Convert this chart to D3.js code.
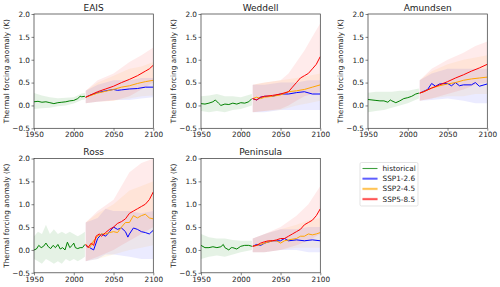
<!DOCTYPE html>
<html>
<head>
<meta charset="utf-8">
<script src="https://cdn.jsdelivr.net/npm/d3@7"></script>
<style>
  body { margin: 0; background: #fff; }
  text { font-family: "DejaVu Sans", sans-serif; fill: #222; }
</style>
</head>
<body>
<svg id="chart" width="500" height="287"></svg>
<script>
// Constant
const regions = ["EAIS", "Weddell", "Amundsen", "Ross", "Peninsula"];
const scenarios = ["historical", "SSP1-2.6", "SSP2-4.5", "SSP5-8.5"];
const colors = ["green", "blue", "orange", "red"];
const xTicks = [1950, 2000, 2050, 2100];
const yTicks = [-0.5, 0.0, 0.5, 1.0, 1.5, 2.0];

// ensemble means, [year, anomaly]
const eaisHist = [[1950,0.08],[1955,0.09],[1960,0.07],[1965,0.08],[1970,0.06],[1975,0.04],[1980,0.06],[1985,0.07],[1990,0.08],[1995,0.1],[2000,0.11],[2005,0.15],[2008,0.2],[2010,0.19],[2014,0.2]];
const eaisSsp126 = [[2015,0.18],[2020,0.22],[2030,0.28],[2040,0.32],[2050,0.35],[2055,0.33],[2060,0.34],[2070,0.36],[2080,0.37],[2090,0.4],[2100,0.4]];
const eaisSsp245 = [[2015,0.18],[2020,0.21],[2030,0.27],[2040,0.31],[2050,0.35],[2060,0.4],[2070,0.43],[2080,0.48],[2090,0.52],[2100,0.55]];
const eaisSsp585 = [[2015,0.18],[2020,0.22],[2030,0.3],[2040,0.36],[2050,0.42],[2060,0.5],[2070,0.57],[2080,0.65],[2090,0.75],[2095,0.8],[2100,0.88]];

const weddellHist = [[1950,0.04],[1955,0.03],[1960,0.05],[1965,0.08],[1968,0.12],[1972,0.05],[1975,0.0],[1980,0.03],[1985,0.02],[1990,0.05],[1995,0.03],[2000,0.06],[2005,0.05],[2010,0.08],[2014,0.15]];
const weddellSsp126 = [[2015,0.15],[2020,0.12],[2025,0.18],[2030,0.2],[2040,0.2],[2050,0.25],[2060,0.25],[2070,0.28],[2080,0.3],[2090,0.25],[2100,0.25]];
const weddellSsp245 = [[2015,0.15],[2020,0.18],[2025,0.15],[2030,0.18],[2040,0.2],[2050,0.23],[2060,0.3],[2070,0.32],[2080,0.35],[2090,0.4],[2100,0.45]];
const weddellSsp585 = [[2015,0.15],[2020,0.12],[2025,0.18],[2030,0.2],[2040,0.22],[2050,0.25],[2060,0.3],[2065,0.4],[2070,0.5],[2075,0.6],[2080,0.65],[2085,0.7],[2090,0.8],[2095,0.9],[2100,1.07]];

const amundsenHist = [[1950,0.13],[1955,0.12],[1960,0.11],[1965,0.1],[1970,0.1],[1975,0.07],[1978,0.12],[1980,0.1],[1985,0.06],[1990,0.1],[1995,0.15],[2000,0.17],[2005,0.2],[2010,0.25],[2014,0.27]];
const amundsenSsp126 = [[2015,0.27],[2025,0.35],[2030,0.48],[2035,0.42],[2040,0.47],[2050,0.48],[2055,0.43],[2060,0.5],[2065,0.43],[2070,0.45],[2080,0.45],[2085,0.5],[2090,0.42],[2100,0.47]];
const amundsenSsp245 = [[2015,0.27],[2020,0.3],[2030,0.38],[2040,0.43],[2050,0.47],[2060,0.5],[2070,0.55],[2080,0.58],[2090,0.6],[2100,0.62]];
const amundsenSsp585 = [[2015,0.27],[2020,0.3],[2030,0.38],[2040,0.45],[2050,0.52],[2060,0.6],[2070,0.67],[2080,0.75],[2090,0.82],[2100,0.9]];

const rossHist = [[1950,0.0],[1953,0.02],[1956,0.1],[1959,0.05],[1962,0.08],[1965,0.15],[1968,0.07],[1971,0.03],[1974,0.1],[1977,0.05],[1980,0.12],[1983,0.02],[1986,0.05],[1989,0.0],[1992,0.17],[1995,0.05],[1998,0.1],[2000,0.15],[2002,0.05],[2005,0.03],[2008,0.05],[2011,0.05],[2014,0.12]];
const rossSsp126 = [[2015,0.1],[2020,0.05],[2025,0.0],[2030,0.25],[2035,0.35],[2040,0.3],[2045,0.4],[2050,0.5],[2055,0.45],[2060,0.48],[2065,0.4],[2068,0.28],[2070,0.35],[2075,0.48],[2080,0.45],[2085,0.4],[2090,0.38],[2095,0.35],[2100,0.43]];
const rossSsp245 = [[2015,0.12],[2020,0.05],[2025,0.2],[2030,0.3],[2035,0.35],[2040,0.35],[2045,0.38],[2050,0.4],[2055,0.38],[2060,0.5],[2065,0.6],[2070,0.6],[2075,0.75],[2080,0.7],[2085,0.75],[2090,0.78],[2095,0.7],[2100,0.68]];
const rossSsp585 = [[2015,0.12],[2018,0.05],[2022,0.15],[2025,0.1],[2028,0.3],[2032,0.35],[2035,0.3],[2040,0.38],[2045,0.45],[2050,0.5],[2055,0.58],[2060,0.62],[2065,0.68],[2070,0.8],[2075,0.85],[2080,0.9],[2085,0.95],[2090,1.0],[2095,1.1],[2100,1.27]];

const peninsulaHist = [[1950,0.1],[1955,0.05],[1960,0.05],[1965,0.07],[1970,0.05],[1975,0.07],[1978,0.12],[1980,0.05],[1985,0.0],[1988,0.05],[1990,0.05],[1995,0.02],[2000,0.08],[2005,0.1],[2010,0.1],[2014,0.08]];
const peninsulaSsp126 = [[2015,0.08],[2020,0.12],[2025,0.1],[2030,0.15],[2040,0.2],[2050,0.2],[2055,0.25],[2060,0.2],[2070,0.22],[2080,0.2],[2090,0.22],[2100,0.2]];
const peninsulaSsp245 = [[2015,0.08],[2025,0.12],[2030,0.15],[2040,0.2],[2045,0.2],[2050,0.15],[2055,0.2],[2060,0.22],[2070,0.25],[2075,0.3],[2080,0.3],[2085,0.35],[2090,0.33],[2095,0.35],[2100,0.38]];
const peninsulaSsp585 = [[2015,0.08],[2020,0.1],[2025,0.15],[2030,0.18],[2035,0.2],[2040,0.2],[2045,0.22],[2050,0.25],[2055,0.25],[2060,0.3],[2065,0.35],[2070,0.4],[2075,0.45],[2080,0.55],[2085,0.6],[2090,0.65],[2095,0.75],[2100,0.9]];

// model spread, [year, low, high]
const eaisHistBand = [[1950,-0.08,0.27],[1960,-0.06,0.22],[1970,-0.05,0.18],[1980,-0.02,0.16],[1990,0.0,0.17],[2000,0.04,0.18],[2010,0.12,0.26],[2014,0.13,0.27]];
const eaisSsp126Band = [[2015,0.05,0.32],[2030,0.08,0.45],[2050,0.12,0.55],[2070,0.12,0.55],[2085,0.15,0.6],[2100,0.18,0.6]];
const eaisSsp245Band = [[2015,0.05,0.32],[2030,0.08,0.5],[2050,0.1,0.65],[2070,0.15,0.8],[2085,0.2,0.85],[2100,0.22,0.95]];
const eaisSsp585Band = [[2015,0.05,0.32],[2030,0.08,0.55],[2050,0.1,0.7],[2070,0.2,0.95],[2085,0.35,1.1],[2100,0.5,1.27]];

const weddellHistBand = [[1950,-0.12,0.2],[1960,-0.15,0.22],[1970,-0.12,0.25],[1980,-0.15,0.2],[1990,-0.1,0.2],[2000,-0.08,0.18],[2014,0.0,0.25]];
const weddellSsp126Band = [[2015,-0.15,0.45],[2030,-0.15,0.45],[2050,-0.1,0.5],[2070,-0.1,0.5],[2085,-0.1,0.55],[2100,-0.1,0.55]];
const weddellSsp245Band = [[2015,-0.15,0.45],[2030,-0.12,0.5],[2050,-0.1,0.55],[2070,0.0,0.6],[2085,0.05,0.65],[2100,0.1,0.7]];
const weddellSsp585Band = [[2015,-0.15,0.45],[2030,-0.12,0.5],[2050,-0.08,0.55],[2060,0.0,0.7],[2070,0.1,0.95],[2080,0.2,1.2],[2090,0.25,1.5],[2100,0.3,1.8]];

const amundsenHistBand = [[1950,-0.15,0.28],[1960,-0.12,0.3],[1970,-0.1,0.3],[1980,-0.05,0.3],[1990,0.0,0.32],[2000,0.05,0.32],[2014,0.15,0.37]];
const amundsenSsp126Band = [[2015,0.1,0.55],[2030,0.12,0.7],[2050,0.15,0.8],[2070,0.1,0.8],[2085,0.05,0.8],[2100,0.05,0.8]];
const amundsenSsp245Band = [[2015,0.1,0.55],[2030,0.15,0.75],[2050,0.2,0.9],[2070,0.2,1.0],[2085,0.25,1.05],[2100,0.25,1.1]];
const amundsenSsp585Band = [[2015,0.1,0.55],[2030,0.15,0.8],[2050,0.25,1.0],[2070,0.35,1.15],[2085,0.45,1.3],[2100,0.5,1.4]];

const rossHistBand = [[1950,-0.2,0.3],[1955,-0.25,0.4],[1960,-0.3,0.35],[1965,-0.2,0.55],[1970,-0.25,0.35],[1975,-0.3,0.45],[1980,-0.25,0.35],[1985,-0.3,0.4],[1990,-0.2,0.35],[1995,-0.25,0.4],[2000,-0.2,0.35],[2005,-0.25,0.3],[2010,-0.2,0.35],[2014,-0.15,0.4]];
const rossSsp126Band = [[2015,-0.25,0.6],[2030,-0.2,0.7],[2040,-0.1,0.9],[2050,-0.1,0.85],[2070,-0.15,0.85],[2085,-0.2,0.8],[2100,-0.2,0.85]];
const rossSsp245Band = [[2015,-0.25,0.6],[2030,-0.2,0.8],[2050,-0.1,1.0],[2070,0.0,1.3],[2085,0.05,1.4],[2100,0.1,1.5]];
const rossSsp585Band = [[2015,-0.25,0.6],[2030,-0.15,0.85],[2050,0.0,1.1],[2060,0.1,1.4],[2070,0.2,1.7],[2085,0.35,1.9],[2100,0.5,2.0]];

const peninsulaHistBand = [[1950,-0.2,0.35],[1960,-0.15,0.28],[1970,-0.12,0.25],[1980,-0.15,0.25],[1990,-0.1,0.22],[2000,-0.05,0.2],[2014,0.0,0.2]];
const peninsulaSsp126Band = [[2015,-0.05,0.25],[2030,-0.05,0.35],[2050,0.0,0.45],[2070,0.0,0.45],[2085,-0.05,0.5],[2100,-0.05,0.5]];
const peninsulaSsp245Band = [[2015,-0.05,0.25],[2030,-0.05,0.35],[2050,0.0,0.45],[2070,0.05,0.55],[2085,0.05,0.65],[2100,0.05,0.7]];
const peninsulaSsp585Band = [[2015,-0.05,0.25],[2030,-0.05,0.35],[2050,0.0,0.5],[2070,0.1,0.75],[2085,0.2,1.0],[2100,0.35,1.4]];

const allLines = [
  [eaisHist, eaisSsp126, eaisSsp245, eaisSsp585],
  [weddellHist, weddellSsp126, weddellSsp245, weddellSsp585],
  [amundsenHist, amundsenSsp126, amundsenSsp245, amundsenSsp585],
  [rossHist, rossSsp126, rossSsp245, rossSsp585],
  [peninsulaHist, peninsulaSsp126, peninsulaSsp245, peninsulaSsp585]
];
const allBands = [
  [eaisHistBand, eaisSsp126Band, eaisSsp245Band, eaisSsp585Band],
  [weddellHistBand, weddellSsp126Band, weddellSsp245Band, weddellSsp585Band],
  [amundsenHistBand, amundsenSsp126Band, amundsenSsp245Band, amundsenSsp585Band],
  [rossHistBand, rossSsp126Band, rossSsp245Band, rossSsp585Band],
  [peninsulaHistBand, peninsulaSsp126Band, peninsulaSsp245Band, peninsulaSsp585Band]
];

var svg = d3.select("#chart");

// panel grid
var colLeft = [34, 201, 368],
    rowTop = [14, 158.5],
    width = 119.3,
    height = 114.3;

var x = d3.scaleLinear().domain([1950, 2100]).range([0, width]);
var y = d3.scaleLinear().domain([-0.5, 2.0]).range([height, 0]);

var fmt = d => d3.format(".1f")(d).replace("-", "\u2212");

function drawPanel(i) {
  let left = colLeft[i % 3], top = rowTop[Math.floor(i / 3)];
  let g = svg.append("g").attr("transform", `translate(${left},${top})`);

  g.append("clipPath").attr("id", "clip" + i)
    .append("rect").attr("width", width).attr("height", height);

  let plot = g.append("g").attr("clip-path", `url(#clip${i})`);

  // shaded spread
  let area = d3.area()
    .x(d => x(d[0]))
    .y0(d => y(d[1]))
    .y1(d => y(d[2]));
  plot.selectAll("path.band")
    .data(allBands[i])
    .enter().append("path")
      .attr("class", "band")
      .attr("d", area)
      .attr("fill", (d, k) => colors[k])
      .attr("fill-opacity", (d, k) => k == 0 ? 0.1 : 0.08);

  // mean lines
  let line = d3.line().x(d => x(d[0])).y(d => y(d[1]));
  plot.selectAll("path.mean")
    .data(allLines[i])
    .enter().append("path")
      .attr("class", "mean")
      .attr("d", line)
      .attr("fill", "none")
      .attr("stroke", (d, k) => colors[k])
      .attr("stroke-width", 1)
      .attr("stroke-linejoin", "round");

  // axes
  let xAxis = g.append("g")
    .attr("transform", `translate(0,${height})`)
    .call(d3.axisBottom(x).tickValues(xTicks).tickFormat(d3.format("d")).tickSize(2.5).tickPadding(1.5));
  let yAxis = g.append("g")
    .call(d3.axisLeft(y).tickValues(yTicks).tickFormat(fmt).tickSize(2.5).tickPadding(1.5));
  [xAxis, yAxis].forEach(a => {
    a.selectAll("text").style("font-size", "7.3px").attr("fill", "#222")
      .style("font-family", "DejaVu Sans, sans-serif");
    a.selectAll("line").attr("stroke", "#333").attr("stroke-width", 0.6);
    a.select(".domain").remove();
  });

  g.append("rect")
    .attr("width", width).attr("height", height)
    .attr("fill", "none").attr("stroke", "#333").attr("stroke-width", 0.7);

  g.append("text")
    .attr("x", width / 2).attr("y", -3.5)
    .attr("text-anchor", "middle")
    .style("font-size", "9px")
    .text(regions[i]);

  g.append("text")
    .attr("transform", `translate(${-27.5},${height / 2}) rotate(-90)`)
    .attr("text-anchor", "middle")
    .attr("dominant-baseline", "central")
    .style("font-size", "7.3px")
    .text("Thermal forcing anomaly (K)");
}

regions.forEach((r, i) => drawPanel(i));

// Add legend
function add_legend() {
  let lg = svg.append("g").attr("transform", "translate(360,162.5)");
  lg.append("rect")
    .attr("width", 58).attr("height", 43.5)
    .attr("rx", 1.5)
    .attr("fill", "#fff").attr("stroke", "#d8d8d8").attr("stroke-width", 0.7);
  let item = lg.selectAll("g.item")
    .data(scenarios)
    .enter().append("g")
      .attr("class", "item")
      .attr("transform", (d, i) => `translate(0,${6 + i * 10.2})`);
  item.filter((d, i) => i > 0).append("line")
    .attr("x1", 2.5).attr("x2", 17.5)
    .attr("stroke", (d, i) => colors[i + 1])
    .attr("stroke-opacity", 0.35)
    .attr("stroke-width", 2.6);
  item.append("line")
    .attr("x1", 2.5).attr("x2", 17.5)
    .attr("stroke", (d, i) => colors[i])
    .attr("stroke-opacity", (d, i) => i == 1 ? 0.5 : 0.75)
    .attr("stroke-width", 1.1);
  item.append("text")
    .attr("x", 22.5)
    .attr("dominant-baseline", "central")
    .style("font-size", "7.3px")
    .text(d => d);
}
add_legend();
</script>
</body>
</html>
